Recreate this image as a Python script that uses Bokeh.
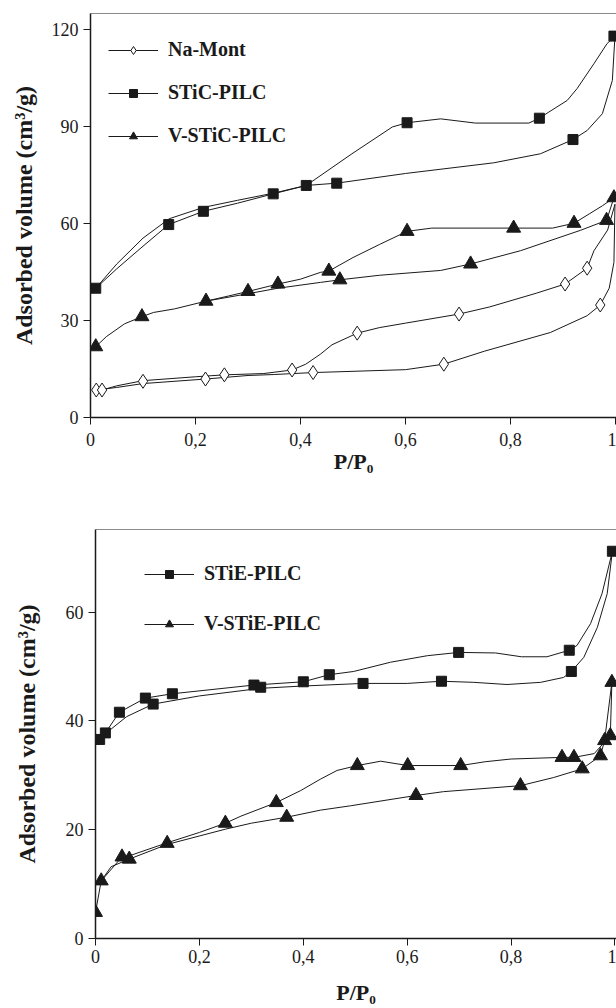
from bokeh.plotting import figure
from bokeh.models import Range1d, FixedTicker, LinearAxis, Legend, LegendItem
from bokeh.embed import file_html
from bokeh.resources import INLINE

SERIF = "Liberation Serif"
INK = "#1a1a1a"

# ---------------- data ----------------
x_ticks = [0, 0.2, 0.4, 0.6, 0.8, 1.0]
x_tick_labels = ["0", "0,2", "0,4", "0,6", "0,8", "1"]
top_y_ticks = [0, 30, 60, 90, 120]
bot_y_ticks = [0, 20, 40, 60]

top_labels = ["Na-Mont", "STiC-PILC", "V-STiC-PILC"]
bot_labels = ["STiE-PILC", "V-STiE-PILC"]

# Na-Mont
namont_ads_x = [0.011, 0.05, 0.10, 0.219, 0.30, 0.35, 0.424, 0.60, 0.673, 0.75, 0.876, 0.946, 0.971, 0.988, 0.997, 0.999]
namont_ads_y = [8.5, 9.3, 10.5, 11.9, 13.0, 13.3, 13.9, 14.8, 16.5, 20.5, 26.3, 31.5, 34.8, 40.0, 48.0, 66.0]
namont_des_x = [0.999, 0.985, 0.959, 0.946, 0.904, 0.85, 0.76, 0.702, 0.60, 0.55, 0.508, 0.46, 0.438, 0.41, 0.384, 0.33, 0.255, 0.20, 0.10, 0.05, 0.022]
namont_des_y = [66.0, 58.0, 51.6, 46.2, 41.3, 38.5, 34.2, 32.0, 29.2, 27.8, 26.1, 22.5, 19.6, 16.5, 14.7, 13.6, 13.2, 12.6, 11.4, 9.8, 8.5]
namont_pts_x = [0.011, 0.022, 0.10, 0.219, 0.255, 0.384, 0.424, 0.508, 0.673, 0.702, 0.904, 0.946, 0.971]
namont_pts_y = [8.5, 8.5, 11.2, 11.9, 13.2, 14.7, 13.9, 26.1, 16.5, 32.0, 41.3, 46.2, 34.8]

# STiC-PILC
stic_ads_x = [0.01, 0.05, 0.10, 0.149, 0.215, 0.28, 0.348, 0.411, 0.469, 0.60, 0.768, 0.857, 0.919, 0.946, 0.975, 0.994, 0.999]
stic_ads_y = [40.0, 46.0, 53.0, 59.7, 63.8, 66.3, 69.2, 71.8, 72.5, 75.5, 78.8, 81.6, 86.0, 88.8, 94.0, 104.3, 118.0]
stic_des_x = [0.999, 0.984, 0.959, 0.927, 0.908, 0.873, 0.855, 0.835, 0.733, 0.667, 0.603, 0.575, 0.498, 0.411, 0.348, 0.28, 0.215, 0.15, 0.10, 0.05, 0.01]
stic_des_y = [118.0, 115.7, 109.5, 101.8, 98.1, 94.5, 92.6, 91.1, 91.1, 92.4, 91.2, 89.9, 81.6, 71.8, 69.4, 67.2, 65.0, 61.5, 55.5, 47.5, 40.0]
stic_pts_x = [0.01, 0.149, 0.215, 0.348, 0.411, 0.469, 0.603, 0.855, 0.919, 0.997]
stic_pts_y = [40.0, 59.7, 63.8, 69.2, 71.8, 72.5, 91.2, 92.6, 86.0, 118.0]

# V-STiC-PILC
vstic_ads_x = [0.01, 0.03, 0.065, 0.098, 0.12, 0.16, 0.22, 0.30, 0.357, 0.438, 0.475, 0.55, 0.667, 0.724, 0.819, 0.933, 0.983, 0.997]
vstic_ads_y = [21.9, 25.0, 29.0, 31.2, 32.5, 33.6, 36.0, 38.3, 40.0, 41.8, 42.6, 44.0, 45.5, 47.5, 51.6, 57.9, 61.0, 68.0]
vstic_des_x = [0.997, 0.975, 0.95, 0.921, 0.88, 0.806, 0.65, 0.603, 0.55, 0.50, 0.454, 0.438, 0.40, 0.357, 0.30, 0.263, 0.22]
vstic_des_y = [68.0, 65.5, 63.0, 60.1, 58.6, 58.6, 58.6, 57.6, 53.5, 49.5, 45.3, 44.9, 42.8, 41.3, 39.0, 37.6, 36.0]
vstic_pts_x = [0.01, 0.098, 0.22, 0.30, 0.357, 0.454, 0.475, 0.603, 0.724, 0.806, 0.921, 0.983, 0.997]
vstic_pts_y = [21.9, 31.2, 36.0, 39.0, 41.3, 45.3, 42.6, 57.6, 47.5, 58.6, 60.1, 61.0, 68.0]

# STiE-PILC
stie_ads_x = [0.008, 0.03, 0.06, 0.111, 0.20, 0.318, 0.395, 0.515, 0.60, 0.666, 0.728, 0.792, 0.857, 0.901, 0.916, 0.94, 0.966, 0.985, 0.995]
stie_ads_y = [36.6, 38.5, 40.8, 43.1, 44.6, 46.0, 46.4, 46.9, 46.9, 47.3, 47.1, 46.7, 47.1, 48.0, 49.1, 51.7, 57.2, 63.4, 71.2]
stie_des_x = [0.995, 0.975, 0.953, 0.927, 0.912, 0.869, 0.82, 0.77, 0.699, 0.639, 0.568, 0.497, 0.45, 0.40, 0.305, 0.148, 0.096, 0.046, 0.019, 0.008]
stie_des_y = [71.2, 63.4, 57.9, 53.9, 53.0, 51.8, 51.8, 52.5, 52.6, 52.0, 50.8, 49.1, 48.5, 47.2, 46.6, 45.0, 44.2, 41.6, 37.8, 36.6]
stie_pts_x = [0.008, 0.019, 0.046, 0.096, 0.111, 0.148, 0.305, 0.318, 0.40, 0.45, 0.515, 0.666, 0.699, 0.912, 0.916, 0.995]
stie_pts_y = [36.6, 37.8, 41.6, 44.2, 43.1, 45.0, 46.6, 46.2, 47.2, 48.5, 46.9, 47.3, 52.6, 53.0, 49.1, 71.2]

# V-STiE-PILC
vstie_ads_x = [0.0, 0.011, 0.03, 0.065, 0.138, 0.25, 0.30, 0.368, 0.433, 0.491, 0.617, 0.67, 0.818, 0.882, 0.937, 0.972, 0.98, 0.994]
vstie_ads_y = [4.8, 10.6, 13.2, 14.6, 17.3, 20.1, 21.2, 22.3, 23.6, 24.4, 26.3, 27.0, 28.1, 29.6, 31.2, 33.6, 36.4, 47.1]
vstie_des_x = [0.994, 0.991, 0.96, 0.921, 0.898, 0.80, 0.75, 0.703, 0.601, 0.549, 0.504, 0.465, 0.433, 0.395, 0.348, 0.28, 0.25, 0.20, 0.138, 0.065, 0.051, 0.011]
vstie_des_y = [47.1, 37.3, 34.0, 33.3, 33.3, 33.0, 32.5, 31.8, 31.8, 32.6, 31.8, 30.9, 29.3, 27.2, 25.0, 22.5, 21.2, 19.5, 17.6, 15.2, 15.0, 10.6]
vstie_pts_x = [0.0, 0.011, 0.051, 0.065, 0.138, 0.25, 0.348, 0.368, 0.504, 0.601, 0.617, 0.703, 0.818, 0.898, 0.921, 0.937, 0.972, 0.98, 0.991, 0.994]
vstie_pts_y = [4.8, 10.6, 15.0, 14.6, 17.5, 21.2, 25.0, 22.3, 31.8, 31.8, 26.3, 31.8, 28.1, 33.3, 33.3, 31.2, 33.6, 36.4, 37.3, 47.1]


def make_fig(height, left, top, bottom, x_end, y_end, y_ticks,
             ylab_standoff, xtick_standoff, xlab_standoff):
    p = figure(width=616, height=height, output_backend="svg", toolbar_location=None,
               x_range=Range1d(0, x_end), y_range=Range1d(0, y_end),
               min_border_left=left, min_border_right=0,
               min_border_top=top, min_border_bottom=bottom)
    p.outline_line_color = None
    p.grid.visible = False
    for ax in (p.xaxis[0], p.yaxis[0]):
        ax.axis_line_color = INK
        ax.axis_line_width = 1.5
        ax.major_tick_line_color = INK
        ax.major_tick_line_width = 1
        ax.major_tick_out = 7
        ax.major_tick_in = 0
        ax.minor_tick_line_color = None
        ax.major_label_text_font = SERIF
        ax.major_label_text_font_size = "18px"
        ax.major_label_text_color = INK
        ax.axis_label_text_font = SERIF
        ax.axis_label_text_font_style = "bold"
        ax.axis_label_text_color = INK
    p.xaxis[0].ticker = FixedTicker(ticks=x_ticks)
    p.xaxis[0].major_label_overrides = {t: l for t, l in zip(x_ticks, x_tick_labels)}
    p.xaxis[0].major_label_standoff = xtick_standoff
    p.xaxis[0].axis_label = "P/P\u2080"
    p.xaxis[0].axis_label_text_font_size = "22px"
    p.xaxis[0].axis_label_standoff = xlab_standoff
    p.yaxis[0].ticker = FixedTicker(ticks=y_ticks)
    p.yaxis[0].major_label_standoff = 5
    p.yaxis[0].axis_label = "Adsorbed volume (cm\u00b3/g)"
    p.yaxis[0].axis_label_text_font_size = "24px"
    p.yaxis[0].axis_label_standoff = ylab_standoff
    top_axis = LinearAxis(axis_line_color="#8a8a8a", axis_line_width=1,
                          ticker=FixedTicker(ticks=[]),
                          major_tick_line_color=None, minor_tick_line_color=None,
                          major_tick_out=0, major_label_standoff=0)
    p.add_layout(top_axis, "above")
    return p


def branch(p, xs, ys):
    return p.line(xs, ys, line_color=INK, line_width=1)


def make_legend(items, loc, spacing):
    return Legend(items=items, location=loc, orientation="vertical",
                  padding=0, margin=0, spacing=spacing,
                  glyph_width=50, glyph_height=20, label_height=20, label_standoff=10,
                  label_text_font=SERIF, label_text_font_style="bold",
                  label_text_font_size="20px", label_text_color=INK,
                  border_line_color=None, background_fill_alpha=0)


# ---------------- top panel ----------------
p1 = make_fig(500, 90, 13, 83, 1.0019, 125, top_y_ticks, 12, 8, 0)

l_na = branch(p1, namont_ads_x, namont_ads_y)
branch(p1, namont_des_x, namont_des_y)
l_st = branch(p1, stic_ads_x, stic_ads_y)
branch(p1, stic_des_x, stic_des_y)
l_vs = branch(p1, vstic_ads_x, vstic_ads_y)
branch(p1, vstic_des_x, vstic_des_y)

m_na = p1.scatter(namont_pts_x, namont_pts_y, marker="diamond", size=14,
                  fill_color="white", line_color=INK, line_width=1)
m_st = p1.scatter(stic_pts_x, stic_pts_y, marker="square", size=10,
                  fill_color=INK, line_color=INK)
m_vs = p1.scatter(vstic_pts_x, vstic_pts_y, marker="triangle", size=14,
                  fill_color=INK, line_color=INK)

leg1 = make_legend([
    LegendItem(label=top_labels[0], renderers=[l_na, m_na]),
    LegendItem(label=top_labels[1], renderers=[l_st, m_st]),
    LegendItem(label=top_labels[2], renderers=[l_vs, m_vs]),
], (18, 270), 20)
p1.add_layout(leg1)

# ---------------- bottom panel ----------------
p2 = make_fig(508, 95, 29, 70, 1.0029, 75.2, bot_y_ticks, 23, 4, 14)

l_se = branch(p2, stie_ads_x, stie_ads_y)
branch(p2, stie_des_x, stie_des_y)
l_vse = branch(p2, vstie_ads_x, vstie_ads_y)
branch(p2, vstie_des_x, vstie_des_y)

m_se = p2.scatter(stie_pts_x, stie_pts_y, marker="square", size=10,
                  fill_color=INK, line_color=INK)
m_vse = p2.scatter(vstie_pts_x, vstie_pts_y, marker="triangle", size=14,
                   fill_color=INK, line_color=INK)

leg2 = make_legend([
    LegendItem(label=bot_labels[0], renderers=[l_se, m_se]),
    LegendItem(label=bot_labels[1], renderers=[l_vse, m_vse]),
], (49, 303), 27)
p2.add_layout(leg2)

# two independent roots so each frame keeps its own left edge
open("out.html", "w").write(file_html([p1, p2], INLINE))
